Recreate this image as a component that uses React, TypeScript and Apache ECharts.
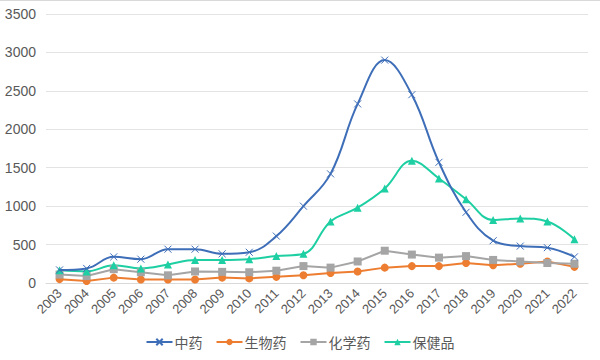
import React, { useEffect, useRef } from "react";
import * as echarts from "echarts";

const years = ["2003","2004","2005","2006","2007","2008","2009","2010","2011","2012","2013","2014","2015","2016","2017","2018","2019","2020","2021","2022"];
const zhongyao = [170, 190, 340, 310, 440, 440, 380, 400, 610, 1000, 1420, 2330, 2900, 2450, 1570, 920, 550, 480, 460, 340];
const shengwuyao = [50, 25, 70, 45, 45, 45, 70, 60, 80, 100, 130, 150, 200, 220, 220, 260, 230, 250, 280, 210];
const huaxueyao = [110, 90, 180, 140, 100, 150, 145, 140, 160, 220, 200, 280, 420, 370, 330, 350, 300, 280, 260, 250];
const baojianpin = [165, 150, 230, 190, 240, 300, 300, 310, 350, 380, 800, 980, 1230, 1590, 1360, 1090, 820, 840, 800, 570];
const yTicks = { min: 0, max: 3500, interval: 500 };

const BLUE = "#3E6EB8";
const ORANGE = "#ED7D31";
const GRAY = "#A5A5A5";
const TEAL = "#1DCFA2";
const FONT = "'Noto Sans CJK SC', 'Noto Sans', sans-serif";
const NUMFONT = "'Liberation Sans', Arial, sans-serif";

export default function App() {
  const ref = useRef<HTMLDivElement>(null);
  useEffect(() => {
    if (!ref.current) return;
    const chart = echarts.init(ref.current, undefined, { renderer: "svg" });
    chart.setOption({
      animation: false,
      textStyle: { fontFamily: FONT },
      graphic: [
        { type: "line", shape: { x1: 0, y1: 0.5, x2: 600, y2: 0.5 }, style: { stroke: "#d9d9d9", lineWidth: 1 } },
      ],
      grid: { left: 46, right: 12, top: 14, bottom: 77, containLabel: false },
      legend: {
        bottom: 6,
        left: "center",
        itemWidth: 26,
        itemHeight: 8,
        itemGap: 13,
        textStyle: { fontSize: 14, color: "#595959", fontFamily: FONT, padding: [0, 0, 0, -3] },
        data: ["中药", "生物药", "化学药", "保健品"],
      },
      xAxis: {
        type: "category",
        data: years,
        boundaryGap: true,
        axisLine: { lineStyle: { color: "#d9d9d9" } },
        axisTick: { show: false },
        axisLabel: { rotate: 45, color: "#595959", fontSize: 13, margin: 8, interval: 0, fontFamily: NUMFONT },
      },
      yAxis: {
        type: "value",
        min: yTicks.min,
        max: yTicks.max,
        interval: yTicks.interval,
        axisLine: { show: false },
        axisTick: { show: false },
        axisLabel: { color: "#595959", fontSize: 14, margin: 10, fontFamily: NUMFONT, formatter: (v: number) => String(v) },
        splitLine: { lineStyle: { color: "#e3e3e3", width: 1 } },
      },
      series: [
        {
          name: "中药",
          type: "line",
          data: zhongyao,
          smooth: 0.4,
          color: BLUE,
          symbol: "path://M0,0L10,10M10,0L0,10",
          symbolSize: 7,
          lineStyle: { width: 2, color: BLUE },
          itemStyle: { color: "none", borderColor: BLUE, borderWidth: 1 },
          z: 5,
        },
        {
          name: "生物药",
          type: "line",
          data: shengwuyao,
          color: ORANGE,
          symbol: "circle",
          symbolSize: 8,
          lineStyle: { width: 2, color: ORANGE },
          itemStyle: { color: ORANGE, borderWidth: 0 },
        },
        {
          name: "化学药",
          type: "line",
          data: huaxueyao,
          color: GRAY,
          symbol: "rect",
          symbolSize: 8,
          lineStyle: { width: 2, color: GRAY },
          itemStyle: { color: GRAY, borderWidth: 0 },
        },
        {
          name: "保健品",
          type: "line",
          data: baojianpin,
          smooth: 0.4,
          color: TEAL,
          symbol: "triangle",
          symbolSize: 8,
          lineStyle: { width: 2, color: TEAL },
          itemStyle: { color: TEAL, borderWidth: 0 },
        },
      ],
    });
    return () => chart.dispose();
  }, []);
  return <div ref={ref} style={{ position: "fixed", left: 0, top: 0, width: 600, height: 360, background: "#fff" }} />;
}
